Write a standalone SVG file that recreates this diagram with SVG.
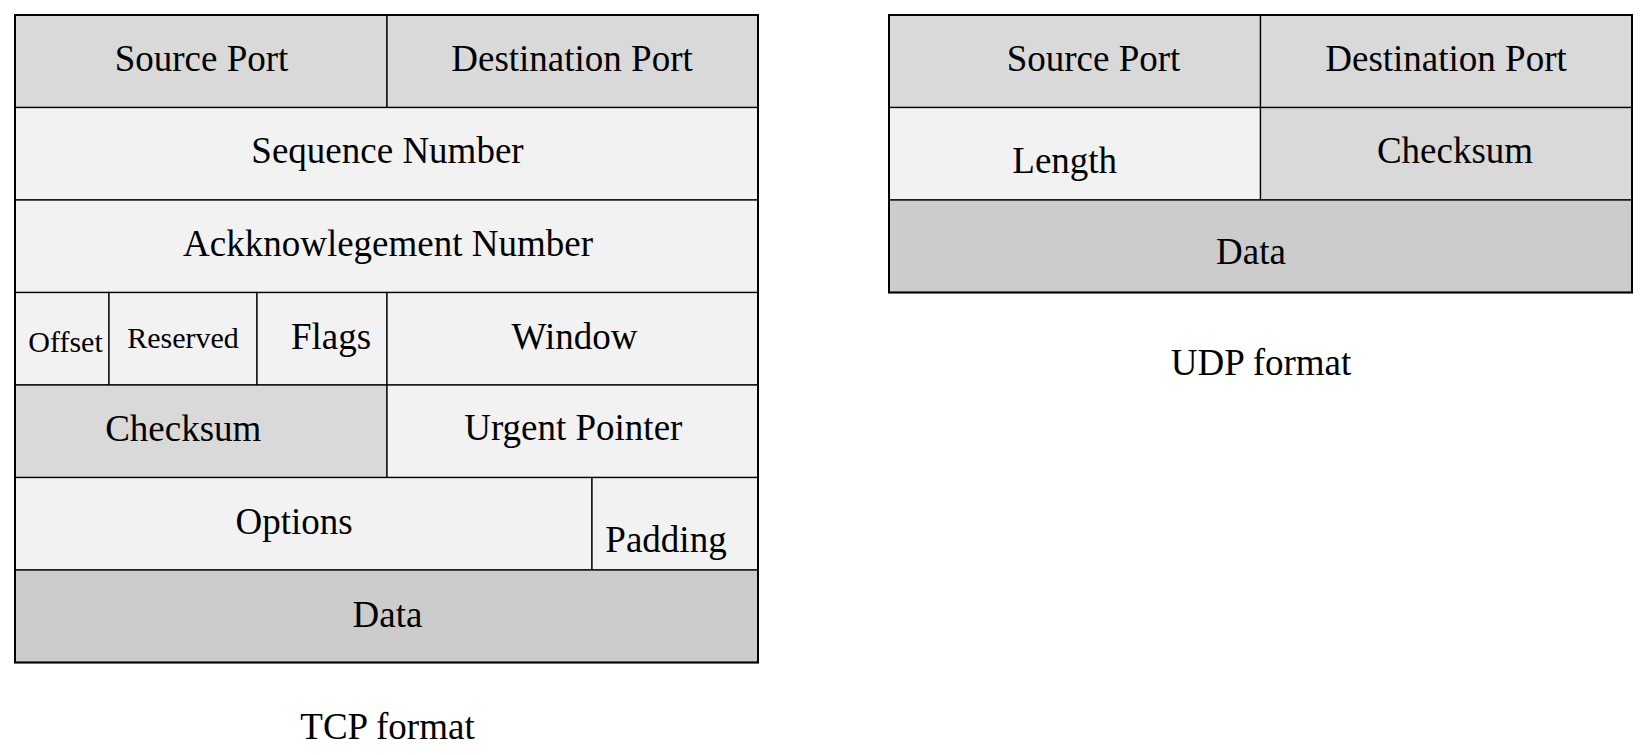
<svg xmlns="http://www.w3.org/2000/svg" width="1650" height="755" viewBox="0 0 1650 755">
<style>
.c{stroke:#000;stroke-width:1.3}
.h{fill:#d9d9d9}
.l{fill:#f2f2f2}
.d{fill:#cccccc}
.o{fill:none;stroke:#000;stroke-width:2}
text{font-family:"Liberation Serif","Times New Roman",serif;font-size:37px;fill:#000;text-anchor:middle}
.s{font-size:30px}
</style>
<rect width="1650" height="755" fill="#fff"/>
<g id="tcp">
<g id="tcp-src"><rect class="c h" x="15" y="15" width="372" height="92.5"/><text x="201.5" y="71">Source Port</text></g>
<g id="tcp-dst"><rect class="c h" x="387" y="15" width="371" height="92.5"/><text x="572" y="71">Destination Port</text></g>
<g id="tcp-seq"><rect class="c l" x="15" y="107.5" width="743" height="92.5"/><text x="387.5" y="163">Sequence Number</text></g>
<g id="tcp-ack"><rect class="c l" x="15" y="200" width="743" height="92.5"/><text x="388" y="256">Ackknowlegement Number</text></g>
<g id="tcp-offset"><rect class="c l" x="15" y="292.5" width="94" height="92.5"/><text class="s" x="65.5" y="352">Offset</text></g>
<g id="tcp-reserved"><rect class="c l" x="109" y="292.5" width="148" height="92.5"/><text class="s" x="183" y="348">Reserved</text></g>
<g id="tcp-flags"><rect class="c l" x="257" y="292.5" width="130" height="92.5"/><text x="331" y="349">Flags</text></g>
<g id="tcp-window"><rect class="c l" x="387" y="292.5" width="371" height="92.5"/><text x="574.5" y="348.5">Window</text></g>
<g id="tcp-checksum"><rect class="c h" x="15" y="385" width="372" height="92.5"/><text x="183.3" y="441">Checksum</text></g>
<g id="tcp-urgent"><rect class="c l" x="387" y="385" width="371" height="92.5"/><text x="573.3" y="440">Urgent Pointer</text></g>
<g id="tcp-options"><rect class="c l" x="15" y="477.5" width="577" height="92.5"/><text x="294" y="533.5">Options</text></g>
<g id="tcp-padding"><rect class="c l" x="592" y="477.5" width="166" height="92.5"/><text x="666" y="552">Padding</text></g>
<g id="tcp-data"><rect class="c d" x="15" y="570" width="743" height="92.5"/><text x="387.5" y="627">Data</text></g>
<rect class="o" x="15" y="15" width="743" height="647.5"/>
<text id="tcp-caption" x="387.5" y="738.5">TCP format</text>
</g>
<g id="udp">
<g id="udp-src"><rect class="c h" x="889" y="15" width="371.5" height="92.5"/><text x="1093.5" y="71">Source Port</text></g>
<g id="udp-dst"><rect class="c h" x="1260.5" y="15" width="371.5" height="92.5"/><text x="1446" y="71">Destination Port</text></g>
<g id="udp-length"><rect class="c l" x="889" y="107.5" width="371.5" height="92.5"/><text x="1064.7" y="173">Length</text></g>
<g id="udp-checksum"><rect class="c h" x="1260.5" y="107.5" width="371.5" height="92.5"/><text x="1455" y="163">Checksum</text></g>
<g id="udp-data"><rect class="c d" x="889" y="200" width="743" height="92.5"/><text x="1251" y="263.5">Data</text></g>
<rect class="o" x="889" y="15" width="743" height="277.5"/>
<text id="udp-caption" x="1261" y="375">UDP format</text>
</g>
<g id="connectors"/>
</svg>
